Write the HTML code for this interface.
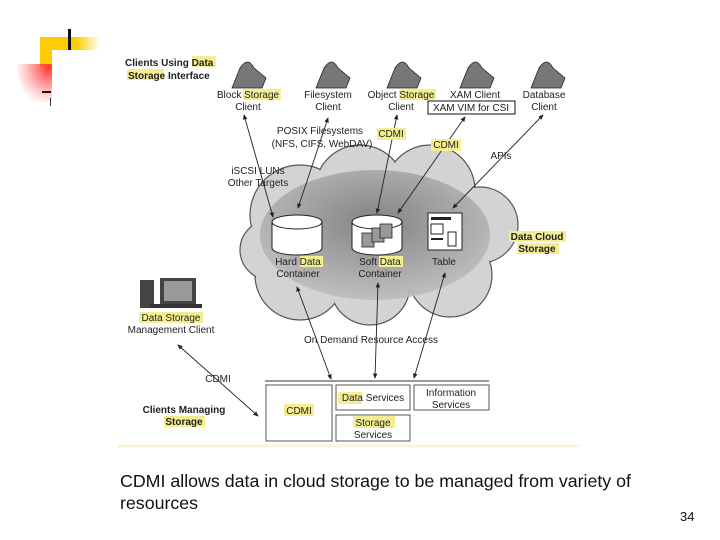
<!DOCTYPE html>
<html><head><meta charset="utf-8"><style>
html,body{margin:0;padding:0;background:#fff;width:720px;height:540px;overflow:hidden;position:relative;font-family:"Liberation Sans",sans-serif}
.cap{position:absolute;left:120px;font-size:17.8px;color:#111;white-space:nowrap}
</style></head><body>
<svg width="720" height="540" style="position:absolute;left:0;top:0" font-family="Liberation Sans, sans-serif">
<defs>
<linearGradient id="yh" x1="0" x2="1"><stop offset="0" stop-color="#ffcc00"/><stop offset="0.6" stop-color="#ffcc00"/><stop offset="1" stop-color="#ffcc00" stop-opacity="0"/></linearGradient>
<radialGradient id="rd" cx="0.9" cy="0.1" r="1"><stop offset="0" stop-color="#ff3333"/><stop offset="1" stop-color="#ff6666" stop-opacity="0"/></radialGradient>
<radialGradient id="cin" cx="0.5" cy="0.4" r="0.6"><stop offset="0" stop-color="#7a7a7a"/><stop offset="1" stop-color="#bdbdbd"/></radialGradient>
<marker id="a" markerWidth="6" markerHeight="6" refX="5" refY="3" orient="auto"><path d="M0,0.5 L6,3 L0,5.5z" fill="#222"/></marker>
<marker id="b" markerWidth="6" markerHeight="6" refX="1" refY="3" orient="auto"><path d="M6,0.5 L0,3 L6,5.5z" fill="#222"/></marker>
</defs>
<rect x="40" y="37" width="60" height="13" fill="url(#yh)"/>
<rect x="40" y="37" width="12" height="30" fill="#ffcc00"/>
<rect x="18" y="64" width="34" height="38" fill="url(#rd)"/>
<rect x="52" y="50" width="50" height="50" fill="#fff"/>
<rect x="68" y="29" width="3" height="21" fill="#111"/>
<rect x="42" y="91" width="9" height="2" fill="#111"/>
<rect x="50" y="98" width="1" height="8" fill="#333"/>
<g fill="#d3d3d3" stroke="#555" stroke-width="1.2">
<circle cx="300" cy="215" r="50"/><circle cx="360" cy="190" r="45"/><circle cx="430" cy="190" r="45"/><circle cx="480" cy="225" r="38"/><circle cx="300" cy="275" r="45"/><circle cx="370" cy="285" r="40"/><circle cx="450" cy="275" r="42"/><circle cx="270" cy="250" r="30"/>
</g>
<g fill="#d3d3d3">
<circle cx="300" cy="215" r="49"/><circle cx="360" cy="190" r="44"/><circle cx="430" cy="190" r="44"/><circle cx="480" cy="225" r="37"/><circle cx="300" cy="275" r="44"/><circle cx="370" cy="285" r="39"/><circle cx="450" cy="275" r="41"/><circle cx="270" cy="250" r="29"/>
<rect x="290" y="200" width="170" height="90"/>
</g>
<ellipse cx="375" cy="235" rx="115" ry="65" fill="url(#cin)" opacity="0.9"/>
<g stroke="#222" fill="#fff">
<path d="M272,222 v26 a25,7 0 0 0 50,0 v-26"/><ellipse cx="297" cy="222" rx="25" ry="7"/>
<path d="M352,222 v26 a25,7 0 0 0 50,0 v-26"/><ellipse cx="377" cy="222" rx="25" ry="7"/>
<rect x="428" y="213" width="34" height="37"/>
</g>
<g fill="#999" stroke="#222" stroke-width="0.8"><rect x="362" y="233" width="12" height="14"/><rect x="372" y="228" width="12" height="14"/><rect x="380" y="224" width="12" height="14"/></g>
<g fill="#222"><rect x="431" y="217" width="20" height="3"/><rect x="431" y="224" width="12" height="10" fill="none" stroke="#222"/><rect x="448" y="232" width="8" height="14" fill="none" stroke="#222"/><rect x="431" y="238" width="12" height="2"/></g>
<g fill="#777" stroke="#222" stroke-width="0.8">
<path d="M232,88 l8,-20 q8,-12 14,0 l12,10 l-4,10z"/><path d="M316,88 l8,-20 q8,-12 14,0 l12,10 l-4,10z"/><path d="M387,88 l8,-20 q8,-12 14,0 l12,10 l-4,10z"/><path d="M460,88 l8,-20 q8,-12 14,0 l12,10 l-4,10z"/><path d="M531,88 l8,-20 q8,-12 14,0 l12,10 l-4,10z"/>
</g>
<rect x="140" y="280" width="14" height="28" fill="#444"/><rect x="160" y="278" width="36" height="26" fill="#444"/><rect x="164" y="281" width="28" height="20" fill="#999"/><rect x="150" y="304" width="52" height="4" fill="#333"/>
<g stroke="#222" stroke-width="0.9" marker-start="url(#b)" marker-end="url(#a)">
<line x1="244" y1="115" x2="273" y2="217"/><line x1="328" y1="118" x2="298" y2="208"/><line x1="397" y1="115" x2="377" y2="213"/><line x1="465" y1="117" x2="398" y2="213"/><line x1="543" y1="115" x2="453" y2="208"/>
<line x1="297" y1="287" x2="331" y2="379"/><line x1="378" y1="283" x2="375" y2="378"/><line x1="445" y1="273" x2="414" y2="378"/><line x1="178" y1="345" x2="258" y2="416"/>
</g>
<line x1="265" y1="381" x2="489" y2="381" stroke="#777" stroke-width="1.5"/>
<g fill="#fff" stroke="#555"><rect x="266" y="385" width="66" height="56"/><rect x="336" y="385" width="74" height="25"/><rect x="414" y="385" width="75" height="25"/><rect x="336" y="415" width="74" height="26"/><rect x="428" y="101" width="87" height="13" stroke="#111"/></g>
<g fill="#f4ee90"><rect x="192" y="56" width="24" height="11"/><rect x="127" y="69" width="37" height="11"/><rect x="243" y="89" width="38" height="11"/><rect x="399" y="89" width="37" height="11"/><rect x="377" y="128" width="29" height="12"/><rect x="431" y="139" width="30" height="12"/><rect x="300" y="256" width="23" height="11"/><rect x="379" y="256" width="24" height="11"/><rect x="509" y="231" width="57" height="11"/><rect x="517" y="243" width="42" height="11"/><rect x="139" y="312" width="64" height="11"/><rect x="338" y="392" width="24" height="12"/><rect x="353" y="416" width="42" height="12"/><rect x="284" y="404" width="30" height="12"/><rect x="164" y="416" width="41" height="11"/></g>
<g font-size="10" fill="#222" text-anchor="middle">
<g font-weight="bold" text-anchor="start"><text x="125" y="66">Clients Using Data</text><text x="128" y="79">Storage Interface</text></g>
<text x="248" y="98">Block Storage</text><text x="248" y="110">Client</text>
<text x="328" y="98">Filesystem</text><text x="328" y="110">Client</text>
<text x="401" y="98">Object Storage</text><text x="401" y="110">Client</text>
<text x="475" y="98">XAM Client</text><text x="471" y="111">XAM VIM for CSI</text>
<text x="544" y="98">Database</text><text x="544" y="110">Client</text>
<text x="320" y="134">POSIX Filesystems</text><text x="322" y="147">(NFS, CIFS, WebDAV)</text>
<text x="391" y="137">CDMI</text><text x="446" y="148">CDMI</text><text x="501" y="159">APIs</text>
<text x="258" y="174">iSCSI LUNs</text><text x="258" y="186">Other Targets</text>
<text x="298" y="265">Hard Data</text><text x="298" y="277">Container</text>
<text x="380" y="265">Soft Data</text><text x="380" y="277">Container</text>
<text x="444" y="265">Table</text>
<g font-weight="bold"><text x="537" y="240">Data Cloud</text><text x="537" y="252">Storage</text><text x="184" y="413">Clients Managing</text><text x="184" y="425">Storage</text></g>
<text x="171" y="321">Data Storage</text><text x="171" y="333">Management Client</text>
<text x="371" y="343">On Demand Resource Access</text>
<text x="218" y="382">CDMI</text><text x="299" y="414">CDMI</text>
<text x="373" y="401">Data Services</text><text x="451" y="396">Information</text><text x="451" y="408">Services</text>
<text x="373" y="426">Storage</text><text x="373" y="438">Services</text>
</g>
<line x1="118" y1="446" x2="580" y2="446" stroke="#faf3d6" stroke-width="3"/>
<text x="680" y="521" font-size="13" fill="#111">34</text>
</svg>
<div class="cap" style="top:471px">CDMI allows data in cloud storage to be managed from variety of</div>
<div class="cap" style="top:493px">resources</div>
</body></html>
